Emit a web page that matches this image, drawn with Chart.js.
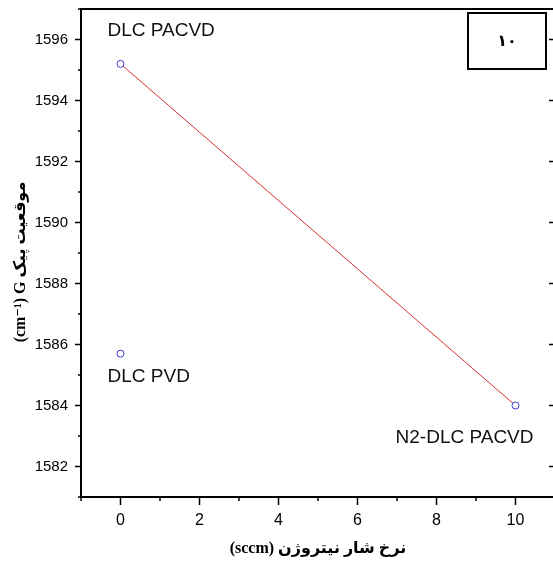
<!DOCTYPE html>
<html>
<head>
<meta charset="utf-8">
<script src="https://cdn.jsdelivr.net/npm/chart.js@4"></script>
<style>
html, body { margin: 0; padding: 0; background: #fff; overflow: hidden; }
</style>
</head>
<body>
<canvas id="myChart" width="560" height="561"></canvas>
<script>
// Data
const flowRates = [0, 10];              // sccm
const pacvdPeaks = [1595.2, 1584.0];    // DLC PACVD -> N2-DLC PACVD
const pacvdLabels = ["DLC PACVD", "N2-DLC PACVD"];
const pvdFlow = [0];
const pvdPeaks = [1585.7];
const pvdLabels = ["DLC PVD"];
const xTicks = [0, 2, 4, 6, 8, 10];
const yTicks = [1582, 1584, 1586, 1588, 1590, 1592, 1594, 1596];
const panelTag = "۱۰";

const xTitle = "(sccm) نرخ شار نیتروژن";
const yTitle = "(cm⁻¹) G موقعیت پیک";

const labelFont = "'Liberation Sans', Arial, sans-serif";
const titleFont = "'Liberation Serif', 'DejaVu Sans', serif";

// Axis box, ticks, y title, point notes and panel tag
const decorations = {
    id: 'decorations',
    afterDatasetsDraw(chart) {
        const ctx = chart.ctx;
        const area = chart.chartArea;
        const xs = chart.scales.x;
        const ys = chart.scales.y;
        ctx.save();
        ctx.strokeStyle = '#000';

        // ticks
        ctx.lineWidth = 1.5;
        ctx.beginPath();
        for (let v = ys.min; v <= ys.max; v++) {
            const y = ys.getPixelForValue(v);
            const len = v % 2 === 0 ? 6 : 3;
            ctx.moveTo(area.left - len, y);
            ctx.lineTo(area.left, y);
            if (v % 2 === 0) {
                ctx.moveTo(area.right - 6, y);
                ctx.lineTo(area.right, y);
            }
        }
        for (let v = xs.min; v <= xs.max; v++) {
            const x = xs.getPixelForValue(v);
            const len = v % 2 === 0 ? 8 : 4;
            ctx.moveTo(x, area.bottom);
            ctx.lineTo(x, area.bottom + len);
        }
        ctx.stroke();

        // frame
        ctx.lineWidth = 2;
        ctx.strokeRect(area.left, area.top, area.right - area.left, area.bottom - area.top);

        // y title
        ctx.save();
        ctx.translate(21, (area.top + area.bottom) / 2 + 9);
        ctx.rotate(-Math.PI / 2);
        ctx.fillStyle = '#000';
        ctx.font = "bold 16px " + titleFont;
        ctx.textAlign = 'center';
        ctx.textBaseline = 'middle';
        ctx.fillText(yTitle, 0, 0);
        ctx.restore();

        // point notes
        ctx.fillStyle = '#111';
        ctx.font = "19px " + labelFont;
        ctx.textBaseline = 'middle';
        const m0 = chart.getDatasetMeta(0).data;
        const m1 = chart.getDatasetMeta(1).data;
        ctx.textAlign = 'left';
        ctx.fillText(pacvdLabels[0], m0[0].x - 13, m0[0].y - 33);
        ctx.fillText(pvdLabels[0], m1[0].x - 13, m1[0].y + 23);
        ctx.textAlign = 'right';
        ctx.fillText(pacvdLabels[1], m0[1].x + 18, m0[1].y + 32);

        // panel tag
        ctx.lineWidth = 2;
        ctx.strokeRect(468, 13, 78, 56);
        ctx.fillStyle = '#000';
        ctx.font = "bold 16px 'DejaVu Sans', sans-serif";
        ctx.textAlign = 'center';
        ctx.fillText(panelTag, 507, 42);
        ctx.restore();
    }
};

const ctx = document.getElementById('myChart').getContext('2d');

const data = {
    datasets: [
        {
            data: flowRates.map((x, i) => ({x: x, y: pacvdPeaks[i]})),
            showLine: true,
            borderColor: '#d83030',
            borderWidth: 1,
            pointRadius: 3.5,
            pointBorderColor: '#3a3ad0',
            pointBackgroundColor: '#fff',
            pointBorderWidth: 1
        },
        {
            data: pvdFlow.map((x, i) => ({x: x, y: pvdPeaks[i]})),
            showLine: false,
            pointRadius: 3.5,
            pointBorderColor: '#3a3ad0',
            pointBackgroundColor: '#fff',
            pointBorderWidth: 1
        }
    ]
};

const config = {
    type: 'scatter',
    data: data,
    options: {
        responsive: false,
        animation: false,
        layout: { padding: { top: 9, right: 3, left: 0, bottom: 0 } },
        plugins: {
            legend: { display: false },
            tooltip: { enabled: false }
        },
        scales: {
            x: {
                type: 'linear',
                min: -1,
                max: 11,
                afterFit: function(scale) {
                    scale.height = 64;
                    scale.paddingLeft = 0;
                    scale.paddingRight = 0;
                },
                grid: { display: false, drawTicks: false },
                border: { display: false },
                ticks: {
                    stepSize: 1,
                    autoSkip: false,
                    maxRotation: 0,
                    padding: 14,
                    color: '#000',
                    font: { size: 16, family: labelFont },
                    callback: function(value) {
                        return xTicks.includes(value) ? String(value) : '';
                    }
                },
                title: {
                    display: true,
                    text: xTitle,
                    color: '#000',
                    padding: { top: 0, bottom: 3 },
                    font: { size: 16, weight: 'bold', family: titleFont }
                }
            },
            y: {
                type: 'linear',
                min: 1581,
                max: 1597,
                afterFit: function(scale) {
                    scale.width = 81;
                    scale.paddingTop = 0;
                    scale.paddingBottom = 0;
                },
                grid: { display: false, drawTicks: false },
                border: { display: false },
                ticks: {
                    stepSize: 1,
                    autoSkip: false,
                    padding: 13,
                    color: '#000',
                    font: { size: 15, family: labelFont },
                    callback: function(value) {
                        return yTicks.includes(value) ? String(value) : '';
                    }
                }
            }
        }
    },
    plugins: [decorations, {
        id: 'bg',
        beforeDraw(chart) {
            const c = chart.ctx;
            c.save();
            c.fillStyle = '#fff';
            c.fillRect(0, 0, chart.width, chart.height);
            c.restore();
        }
    }]
};

const myChart = new Chart(ctx, config);
</script>
</body>
</html>
